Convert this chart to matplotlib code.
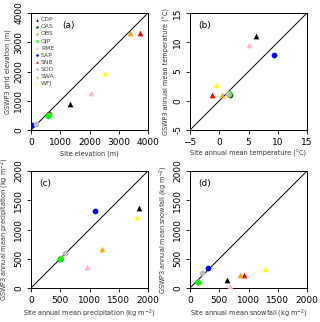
import numpy as np
import matplotlib.pyplot as plt

sites = ['CDP', 'OAS', 'OBS', 'OJP', 'RME', 'SAP', 'SNB', 'SOD', 'SWA', 'WFJ']
colors = ['black', '#006400', '#9ACD32', '#00FF00', '#FFB6C1', '#0000FF', '#FF0000', '#BEBEBE', '#FFA500', '#FFFF00']
markers = ['^', 'o', 'o', 'o', '^', 'o', '^', 'o', '^', '^']

# (a) elevation (m)
elev_site = [1325, 600, 630, 580, 2060, 30, 3720, 180, 3370, 2540]
elev_gswp = [880, 560, 520, 490, 1270, 170, 3310, 220, 3310, 1950]
# (b) temperature (degC)
temp_site = [6.2, 1.9, 1.7, 1.6, 5.0, 9.3, -1.2, 1.5, 0.45, -0.6]
temp_gswp = [11.0, 1.0, 1.2, 1.3, 9.5, 7.9, 1.05, 1.1, 1.0, 2.75]
# (c) precipitation (kg m-2)
prec_site = [1845, 500, 505, 490, 960, 1090, np.nan, 585, 1215, 1810]
prec_gswp = [1370, 490, 505, 500, 360, 1315, np.nan, 600, 670, 1215]
# (d) snowfall (kg m-2)
snow_site = [625, 130, 135, 130, 680, 312, 925, 210, 860, 1280]
snow_gswp = [143, 108, 110, 109, 35, 349, 229, 257, 229, 331]

panels = [
    ('(a)', elev_site, elev_gswp, (0, 4000), [0, 1000, 2000, 3000, 4000],
     'Site elevation (m)', 'GSWP3 grid elevation (m)', 0.27),
    ('(b)', temp_site, temp_gswp, (-5, 15), [-5, 0, 5, 10, 15],
     'Site annual mean temperature (°C)', 'GSWP3 annual mean temperature (°C)', 0.07),
    ('(c)', prec_site, prec_gswp, (0, 2000), [0, 500, 1000, 1500, 2000],
     'Site annual mean precipitation (kg m$^{-2}$)', 'GSWP3 annual mean precipitation (kg m$^{-2}$)', 0.07),
    ('(d)', snow_site, snow_gswp, (0, 2000), [0, 500, 1000, 1500, 2000],
     'Site annual mean snowfall (kg m$^{-2}$)', 'GSWP3 annual mean snowfall (kg m$^{-2}$)', 0.07),
]

fig = plt.figure(figsize=(3.2, 3.22), dpi=100)
W, H = 320, 322
boxes = [(31, 13), (190, 13), (31, 171), (190, 171)]
side = 117

for (lab, xs, ys, lim, ticks, xl, yl, lx), (x0, y0) in zip(panels, boxes):
    ax = fig.add_axes([x0 / W, 1 - (y0 + side) / H, side / W, side / H])
    ax.plot(lim, lim, color='black', lw=0.7)
    for i in range(len(sites)):
        ax.scatter(xs[i], ys[i], c=colors[i], marker=markers[i], s=17,
                   linewidths=0, label=sites[i], zorder=3)
    ax.set_xlim(lim)
    ax.set_ylim(lim)
    ax.set_xticks(ticks)
    ax.set_yticks(ticks)
    ax.set_yticklabels([str(t) for t in ticks], rotation=90, va='center')
    ax.tick_params(labelsize=6.5, length=3, width=0.6, pad=2.5)
    for s in ax.spines.values():
        s.set_linewidth(0.7)
    ax.set_xlabel(xl, fontsize=4.7, color='#333333', labelpad=2.5)
    ax.set_ylabel(yl, fontsize=4.7, color='#333333', labelpad=2.5)
    ax.text(lx, 0.87, lab, transform=ax.transAxes, fontsize=6.5)
    if lab == '(a)':
        ax.legend(loc='upper left', fontsize=4.4, frameon=False, markerscale=0.45,
                  handletextpad=0.2, labelspacing=0.3, borderaxespad=0.25,
                  handlelength=0.8, labelcolor='#444444')

fig.savefig('out.png', dpi=100)
